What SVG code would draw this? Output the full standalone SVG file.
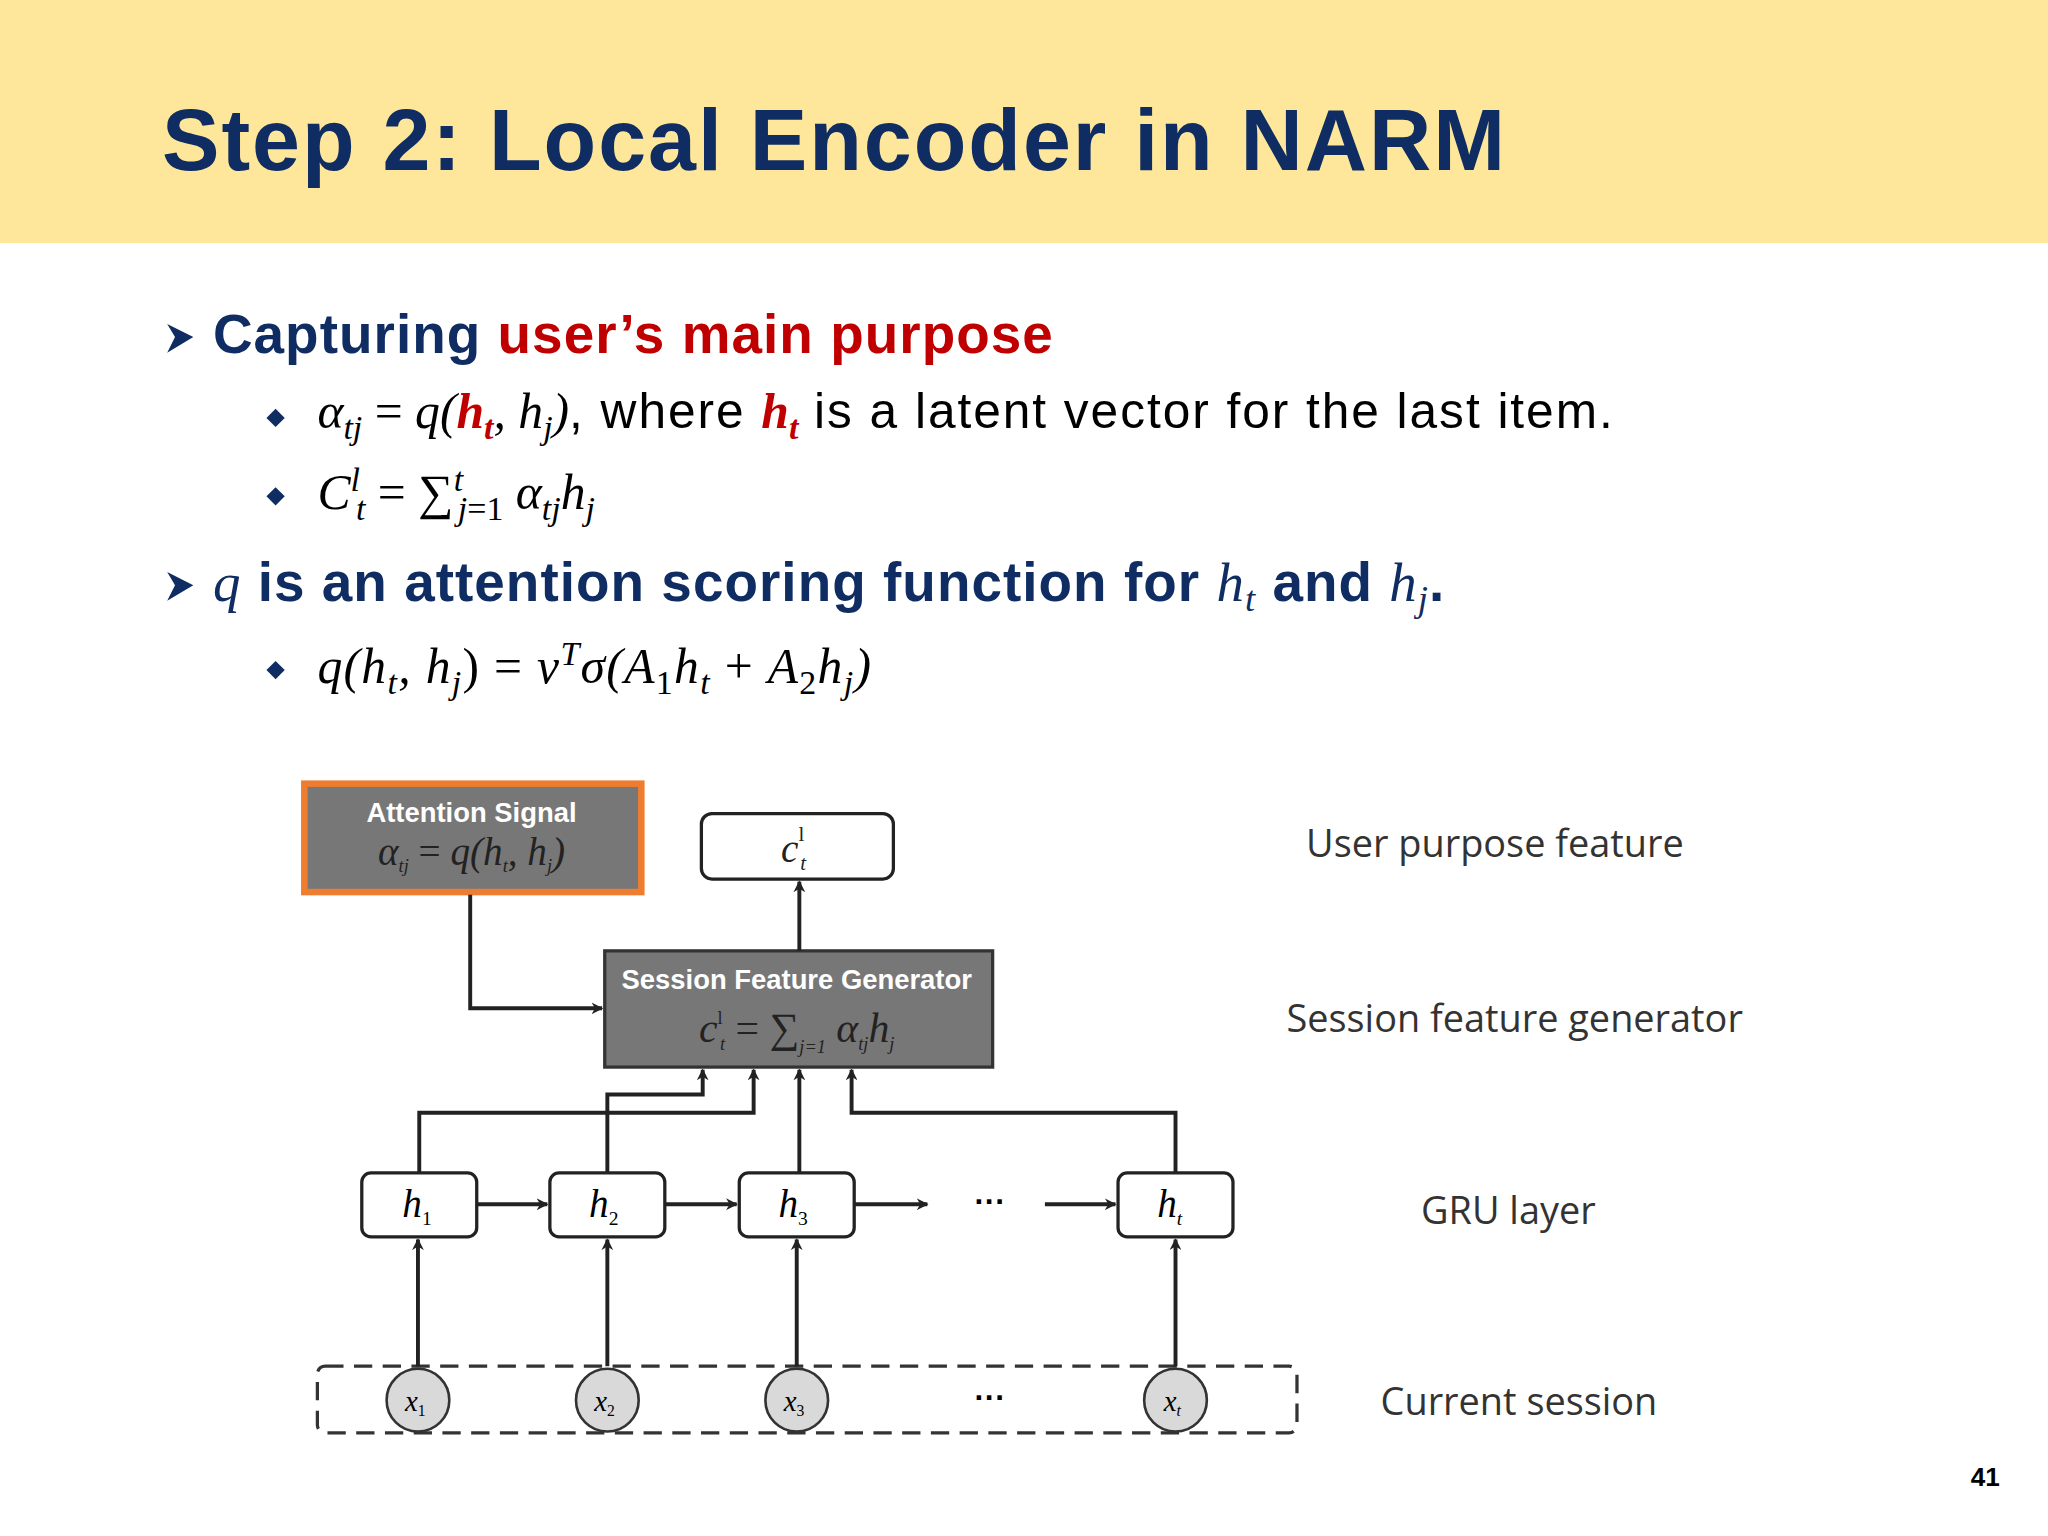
<svg xmlns="http://www.w3.org/2000/svg" width="2048" height="1536" viewBox="0 0 2048 1536">
<defs>
<marker id="ah" viewBox="0 0 10 10" refX="9" refY="5" markerWidth="9" markerHeight="9" markerUnits="userSpaceOnUse" orient="auto"><path d="M0,0 L10,5 L0,10 L3,5 z" fill="#222"/></marker>
<style>
.t{font-family:"Liberation Sans",Arial,sans-serif}
.m{font-family:"Liberation Serif","DejaVu Serif",serif;font-style:italic}
.h{font-family:"Liberation Sans",Arial,sans-serif;font-weight:bold;fill:#0F2D62}
.lbl{font-family:"Open Sans","Liberation Sans",sans-serif;font-size:29px;fill:#333}
.box{fill:#fff;stroke:#222;stroke-width:2.5}
.ln{fill:none;stroke:#222;stroke-width:3;marker-end:url(#ah)}
</style>
</defs>
<rect width="2048" height="1536" fill="#fff"/>
<g transform="scale(1.30612)">
<rect x="0" y="0" width="1568" height="186" fill="#FEE79B"/>
<text class="h" x="124" y="130" font-size="66" letter-spacing="1.5">Step 2: Local Encoder in NARM</text>
<path d="M128,248 L148,258 L128,270 L134,258 z" fill="#0F2D62"/>
<text class="h" x="163" y="270" font-size="42" letter-spacing="0.8">Capturing <tspan fill="#C00000">user’s main purpose</tspan></text>
<path d="M204,320 L211,313 L218,320 L211,327 z" fill="#0F2D62"/>
<text class="m" x="243" y="328" font-size="38">α<tspan font-size="26" dy="8">tj</tspan><tspan dy="-8" font-style="normal"> = </tspan>q(<tspan fill="#C00000" font-weight="bold">h<tspan font-size="26" dy="8">t</tspan></tspan><tspan dy="-8">, h</tspan><tspan font-size="26" dy="8">j</tspan><tspan dy="-8">)</tspan><tspan class="t" font-style="normal" letter-spacing="1.5">, where </tspan><tspan fill="#C00000" font-weight="bold">h<tspan font-size="26" dy="8">t</tspan></tspan><tspan class="t" font-style="normal" dy="-8" letter-spacing="1.5"> is a latent vector for the last item.</tspan></text>
<path d="M204,380 L211,373 L218,380 L211,387 z" fill="#0F2D62"/>
<text class="m" x="243" y="390" font-size="38">C<tspan font-size="26" dy="-14">l</tspan><tspan font-size="26" dx="-3" dy="22">t</tspan><tspan dy="-8" font-style="normal"> = ∑</tspan><tspan font-size="26" dy="-14">t</tspan><tspan font-size="26" dx="-4" dy="22">j</tspan><tspan font-size="26" font-style="normal">=1</tspan><tspan dy="-8"> α</tspan><tspan font-size="26" dy="8">tj</tspan><tspan dy="-8">h</tspan><tspan font-size="26" dy="8">j</tspan></text>
<path d="M128,438 L148,448 L128,460 L134,448 z" fill="#0F2D62"/>
<text class="h" x="163" y="460" font-size="42" letter-spacing="0.8"><tspan class="m" font-weight="normal">q</tspan> is an attention scoring function for <tspan class="m" font-weight="normal">h<tspan font-size="28" dy="8">t</tspan></tspan><tspan dy="-8"> and </tspan><tspan class="m" font-weight="normal">h<tspan font-size="28" dy="8">j</tspan></tspan><tspan dy="-8">.</tspan></text>
<path d="M204,513 L211,506 L218,513 L211,520 z" fill="#0F2D62"/>
<text class="m" x="243" y="523" font-size="38" letter-spacing="1">q(h<tspan font-size="26" dy="8">t</tspan><tspan dy="-8">, h</tspan><tspan font-size="26" dy="8">j</tspan><tspan dy="-8" font-style="normal">) = </tspan>v<tspan font-size="26" dy="-14">T</tspan><tspan dy="14">σ(A</tspan><tspan font-size="26" dy="8" font-style="normal">1</tspan><tspan dy="-8">h</tspan><tspan font-size="26" dy="8">t</tspan><tspan dy="-8" font-style="normal"> + </tspan>A<tspan font-size="26" dy="8" font-style="normal">2</tspan><tspan dy="-8">h</tspan><tspan font-size="26" dy="8">j</tspan><tspan dy="-8">)</tspan></text>

<g id="attention">
<rect x="233" y="600" width="258" height="83" fill="#777" stroke="#EE7D2F" stroke-width="5"/>
<text class="t" x="361" y="629" font-size="21" fill="#fff" text-anchor="middle" font-weight="bold">Attention Signal</text>
<text class="m" x="361" y="662" font-size="30" fill="#222" text-anchor="middle">α<tspan font-size="14" dy="6">tj</tspan><tspan dy="-6" font-style="normal"> = </tspan>q(h<tspan font-size="14" dy="6">t</tspan><tspan dy="-6">, h</tspan><tspan font-size="14" dy="6">j</tspan><tspan dy="-6">)</tspan></text>
</g>
<g id="ctl">
<rect class="box" x="537" y="623" width="147" height="50" rx="8"/>
<text class="m" x="598" y="660" font-size="30" fill="#222">c<tspan font-size="16" dy="-16" font-style="normal">l</tspan><tspan font-size="16" dx="-3" dy="22">t</tspan></text>
</g>
<g id="sfg">
<rect x="463" y="728" width="297" height="89" fill="#777" stroke="#333" stroke-width="2.5"/>
<text class="t" x="610" y="757" font-size="21" fill="#fff" text-anchor="middle" font-weight="bold">Session Feature Generator</text>
<text class="m" x="610" y="798" font-size="32" fill="#222" text-anchor="middle">c<tspan font-size="14" dy="-14" font-style="normal">l</tspan><tspan font-size="14" dx="-2" dy="20">t</tspan><tspan dy="-6" font-style="normal"> = ∑</tspan><tspan font-size="14" dy="8">j=1</tspan><tspan dy="-8"> α</tspan><tspan font-size="14" dy="6">tj</tspan><tspan dy="-6">h</tspan><tspan font-size="14" dy="6">j</tspan></text>
</g>
<g id="h1"><rect class="box" x="277" y="898" width="88" height="49" rx="7"/><text class="m" x="308" y="932" font-size="30">h<tspan font-size="15" dy="6" font-style="normal">1</tspan></text></g>
<g id="h2"><rect class="box" x="421" y="898" width="88" height="49" rx="7"/><text class="m" x="451" y="932" font-size="30">h<tspan font-size="15" dy="6" font-style="normal">2</tspan></text></g>
<g id="h3"><rect class="box" x="566" y="898" width="88" height="49" rx="7"/><text class="m" x="596" y="932" font-size="30">h<tspan font-size="15" dy="6" font-style="normal">3</tspan></text></g>
<g id="ht"><rect class="box" x="856" y="898" width="88" height="49" rx="7"/><text class="m" x="886" y="932" font-size="30">h<tspan font-size="15" dy="6">t</tspan></text></g>
<text class="t" x="758" y="928" font-size="24" font-weight="bold" text-anchor="middle">···</text>
<g id="session">
<rect x="243" y="1046" width="750" height="51" rx="6" fill="none" stroke="#333" stroke-width="2.5" stroke-dasharray="14,8"/>
<circle cx="320" cy="1072" r="24" fill="#d9d9d9" stroke="#333" stroke-width="2"/>
<circle cx="465" cy="1072" r="24" fill="#d9d9d9" stroke="#333" stroke-width="2"/>
<circle cx="610" cy="1072" r="24" fill="#d9d9d9" stroke="#333" stroke-width="2"/>
<circle cx="900" cy="1072" r="24" fill="#d9d9d9" stroke="#333" stroke-width="2"/>
<text class="m" x="310" y="1080" font-size="22">x<tspan font-size="12" dy="4" font-style="normal">1</tspan></text>
<text class="m" x="455" y="1080" font-size="22">x<tspan font-size="12" dy="4" font-style="normal">2</tspan></text>
<text class="m" x="600" y="1080" font-size="22">x<tspan font-size="12" dy="4" font-style="normal">3</tspan></text>
<text class="m" x="891" y="1080" font-size="22">x<tspan font-size="12" dy="4">t</tspan></text>
<text class="t" x="758" y="1078" font-size="24" font-weight="bold" text-anchor="middle">···</text>
</g>
<g id="connectors">
<path class="ln" d="M360,685 V772 H461"/>
<path class="ln" d="M612,728 V675"/>
<path class="ln" d="M365,922 H419"/>
<path class="ln" d="M509,922 H564"/>
<path class="ln" d="M654,922 H710"/>
<path class="ln" d="M800,922 H854"/>
<path class="ln" d="M320,1046 V949"/>
<path class="ln" d="M465,1046 V949"/>
<path class="ln" d="M610,1046 V949"/>
<path class="ln" d="M900,1046 V949"/>
<path class="ln" d="M321,898 V852 H577 V819"/>
<path class="ln" d="M465,898 V838 H538 V819"/>
<path class="ln" d="M612,898 V819"/>
<path class="ln" d="M900,898 V852 H652 V819"/>
</g>
<text class="lbl" x="1000" y="656">User purpose feature</text>
<text class="lbl" x="985" y="790">Session feature generator</text>
<text class="lbl" x="1088" y="937">GRU layer</text>
<text class="lbl" x="1057" y="1083">Current session</text>
<text class="t" x="1520" y="1138" font-size="20" font-weight="bold" text-anchor="middle">41</text>
</g>
</svg>
